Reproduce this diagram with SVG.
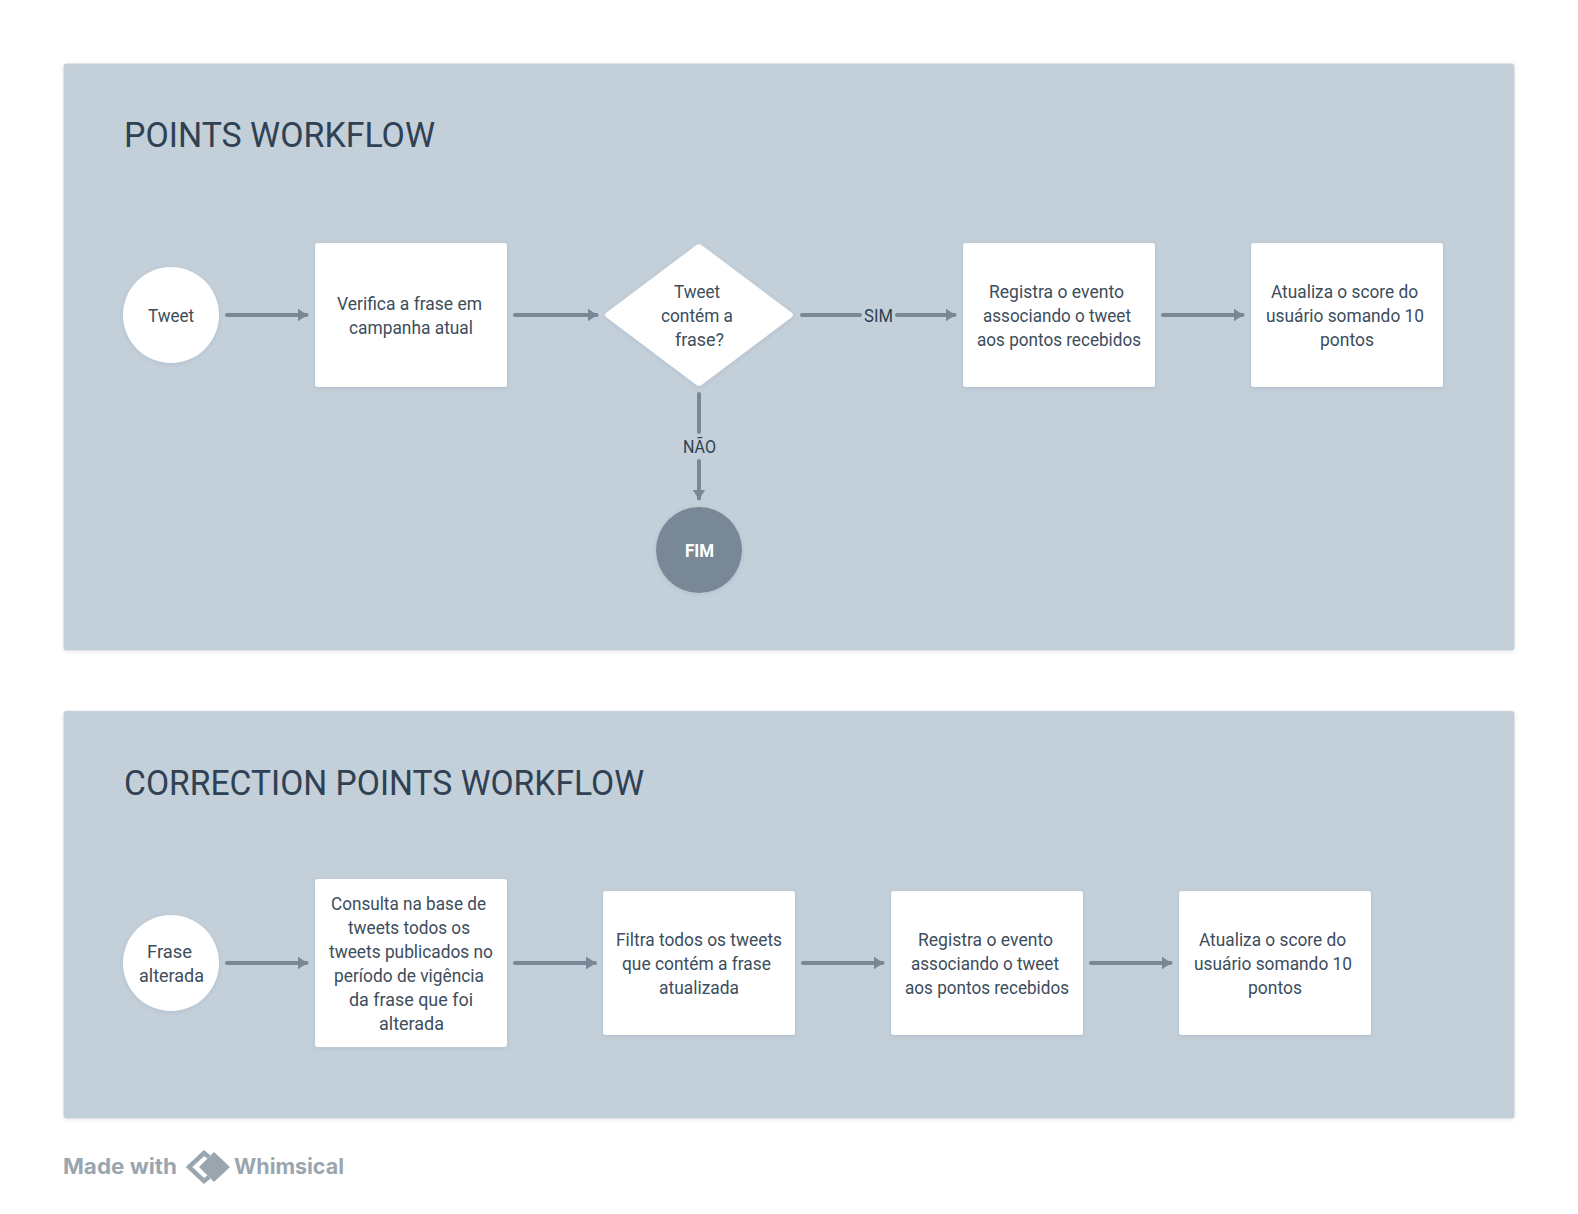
<svg xmlns="http://www.w3.org/2000/svg" width="1578" height="1214" viewBox="0 0 1578 1214">
<style>
text{font-family:Roboto,"Liberation Sans",sans-serif;fill:#3c4d5c;font-size:18px}
.title{font-size:35px;fill:#2f4152}
.lbl{fill:#2f4152}
.w{font-weight:700;fill:#fff}
.panel{fill:#c3d0da}
.node{fill:#fff;filter:url(#s)}
.line{fill:none;stroke:#798897;stroke-width:4;stroke-linecap:round}
.wm{font-family:Inter,Roboto,sans-serif;font-weight:700;font-size:21px;fill:#9aa6af}
</style>
<defs>
<filter id="s" x="-20%" y="-20%" width="140%" height="140%"><feDropShadow dx="0" dy="1" stdDeviation="2" flood-color="#2f4152" flood-opacity=".1"/></filter>
<marker id="a" viewBox="0 0 10 14" refX="9" refY="7" markerWidth="10" markerHeight="14" markerUnits="userSpaceOnUse" orient="auto"><path d="M0 0.500L10 7L0 13.500Z" fill="#798897"/></marker>
</defs>
<rect width="1578" height="1214" fill="#fff"/>
<g id="panel-1"><rect class="panel" x="63.500" y="63.500" width="1451" height="587" rx="3" filter="url(#s)"/><text class="title" x="124" y="147" textLength="311" lengthAdjust="spacingAndGlyphs">POINTS WORKFLOW</text></g>
<g id="panel-2"><rect class="panel" x="63.500" y="711" width="1451" height="407.500" rx="3" filter="url(#s)"/><text class="title" x="124" y="795" textLength="520" lengthAdjust="spacingAndGlyphs">CORRECTION POINTS WORKFLOW</text></g>
<g id="connectors">
<path class="line" marker-end="url(#a)" d="M227 315H306.500"/>
<path class="line" marker-end="url(#a)" d="M515 315H596.500"/>
<path class="line" marker-end="url(#a)" d="M802 315H860M897 315H954.500"/>
<path class="line" marker-end="url(#a)" d="M1163 315H1242.500"/>
<path class="line" marker-end="url(#a)" d="M699 394V432M699 461V498.500"/>
<path class="line" marker-end="url(#a)" d="M227 963H306.500"/>
<path class="line" marker-end="url(#a)" d="M515 963H595"/>
<path class="line" marker-end="url(#a)" d="M803 963H882.500"/>
<path class="line" marker-end="url(#a)" d="M1091 963H1170.500"/>
<text class="lbl" x="864" y="321.500" textLength="29" lengthAdjust="spacingAndGlyphs">SIM</text>
<text class="lbl" x="683" y="452.500" textLength="33" lengthAdjust="spacingAndGlyphs">NÃO</text>
</g>
<g id="n1"><circle class="node" cx="171" cy="315" r="48"/><text x="148" y="321.500" textLength="46" lengthAdjust="spacingAndGlyphs">Tweet</text></g>
<g id="n2"><rect class="node" x="315" y="243" width="192" height="144" rx="3"/><text x="337" y="309.500" textLength="145" lengthAdjust="spacingAndGlyphs">Verifica a frase em</text><text x="349" y="333.500" textLength="124" lengthAdjust="spacingAndGlyphs">campanha atual</text></g>
<g id="n3"><path class="node" d="M696.500 245Q699 243.300 701.500 245L792 313Q794 315 792 317L701.500 385Q699 386.700 696.500 385L606 317Q604 315 606 313Z"/><text x="674" y="297.500" textLength="46" lengthAdjust="spacingAndGlyphs">Tweet</text><text x="661" y="321.500" textLength="72" lengthAdjust="spacingAndGlyphs">contém a</text><text x="675" y="345.500" textLength="49" lengthAdjust="spacingAndGlyphs">frase?</text></g>
<g id="n4"><rect class="node" x="963" y="243" width="192" height="144" rx="3"/><text x="989" y="297.500" textLength="135" lengthAdjust="spacingAndGlyphs">Registra o evento</text><text x="983" y="321.500" textLength="148" lengthAdjust="spacingAndGlyphs">associando o tweet</text><text x="977" y="345.500" textLength="164" lengthAdjust="spacingAndGlyphs">aos pontos recebidos</text></g>
<g id="n5"><rect class="node" x="1251" y="243" width="192" height="144" rx="3"/><text x="1271" y="297.500" textLength="147" lengthAdjust="spacingAndGlyphs">Atualiza o score do</text><text x="1266" y="321.500" textLength="158" lengthAdjust="spacingAndGlyphs">usuário somando 10</text><text x="1320" y="345.500" textLength="54" lengthAdjust="spacingAndGlyphs">pontos</text></g>
<g id="n6"><circle cx="699" cy="550" r="43" fill="#798897" filter="url(#s)"/><text class="w" x="685" y="556.500" textLength="29" lengthAdjust="spacingAndGlyphs">FIM</text></g>
<g id="m1"><circle class="node" cx="171" cy="963" r="48"/><text x="147" y="957.500" textLength="45" lengthAdjust="spacingAndGlyphs">Frase</text><text x="139" y="981.500" textLength="65" lengthAdjust="spacingAndGlyphs">alterada</text></g>
<g id="m2"><rect class="node" x="315" y="879" width="192" height="168" rx="3"/><text x="331" y="909.500" textLength="155" lengthAdjust="spacingAndGlyphs">Consulta na base de</text><text x="348" y="933.500" textLength="122" lengthAdjust="spacingAndGlyphs">tweets todos os</text><text x="329" y="957.500" textLength="164" lengthAdjust="spacingAndGlyphs">tweets publicados no</text><text x="334" y="981.500" textLength="150" lengthAdjust="spacingAndGlyphs">período de vigência</text><text x="349" y="1005.500" textLength="124" lengthAdjust="spacingAndGlyphs">da frase que foi</text><text x="379" y="1029.500" textLength="65" lengthAdjust="spacingAndGlyphs">alterada</text></g>
<g id="m3"><rect class="node" x="603" y="891" width="192" height="144" rx="3"/><text x="616" y="945.500" textLength="166" lengthAdjust="spacingAndGlyphs">Filtra todos os tweets</text><text x="622" y="969.500" textLength="149" lengthAdjust="spacingAndGlyphs">que contém a frase</text><text x="659" y="993.500" textLength="80" lengthAdjust="spacingAndGlyphs">atualizada</text></g>
<g id="m4"><rect class="node" x="891" y="891" width="192" height="144" rx="3"/><text x="918" y="945.500" textLength="135" lengthAdjust="spacingAndGlyphs">Registra o evento</text><text x="911" y="969.500" textLength="148" lengthAdjust="spacingAndGlyphs">associando o tweet</text><text x="905" y="993.500" textLength="164" lengthAdjust="spacingAndGlyphs">aos pontos recebidos</text></g>
<g id="m5"><rect class="node" x="1179" y="891" width="192" height="144" rx="3"/><text x="1199" y="945.500" textLength="147" lengthAdjust="spacingAndGlyphs">Atualiza o score do</text><text x="1194" y="969.500" textLength="158" lengthAdjust="spacingAndGlyphs">usuário somando 10</text><text x="1248" y="993.500" textLength="54" lengthAdjust="spacingAndGlyphs">pontos</text></g>
<g id="watermark"><text class="wm" x="63" y="1174" textLength="114" lengthAdjust="spacingAndGlyphs">Made with</text><path d="M209 1157L204 1153L189 1167L204 1181L209 1177" fill="none" stroke="#9aa6af" stroke-width="4.500"/><path d="M214 1152L230 1167L214 1182L199 1167Z" fill="#9aa6af"/><text class="wm" x="234" y="1174" textLength="110" lengthAdjust="spacingAndGlyphs">Whimsical</text></g>
</svg>
